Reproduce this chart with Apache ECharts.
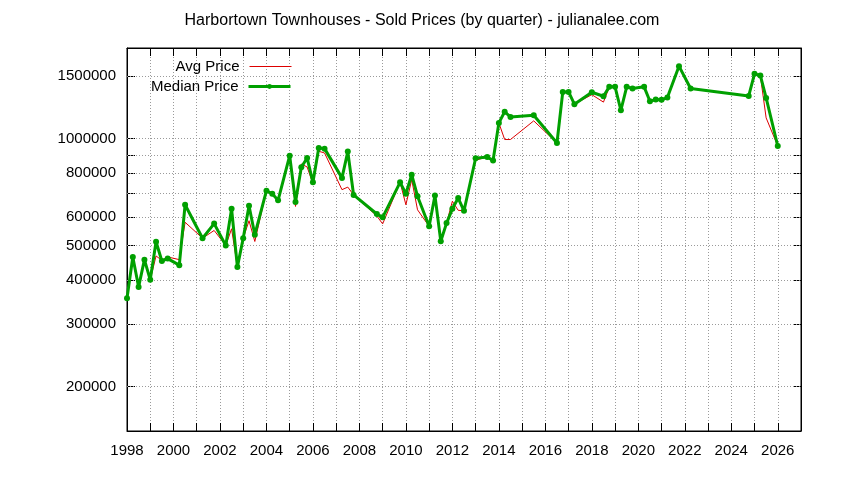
<!DOCTYPE html>
<html><head><meta charset="utf-8">
<script src="https://cdn.jsdelivr.net/npm/echarts@6/dist/echarts.min.js"></script>
<style>html,body{margin:0;padding:0;background:#fff}#c{width:844px;height:480px}</style>
</head><body><div id="c"></div>
<script>
const quarters = [1998.00,1998.25,1998.50,1998.75,1999.00,1999.25,1999.50,1999.75,2000.25,2000.50,
  2001.25,2001.75,2002.25,2002.50,2002.75,2003.00,2003.25,2003.50,2004.00,2004.25,
  2004.50,2005.00,2005.25,2005.50,2005.75,2006.00,2006.25,2006.50,2007.25,2007.50,
  2007.75,2008.75,2009.00,2009.75,2010.00,2010.25,2010.50,2011.00,2011.25,2011.50,
  2011.75,2012.00,2012.25,2012.50,2013.00,2013.50,2013.75,2014.00,2014.25,2014.50,
  2015.50,2016.50,2016.75,2017.00,2017.25,2018.00,2018.50,2018.75,2019.00,2019.25,
  2019.50,2019.75,2020.25,2020.50,2020.75,2021.00,2021.25,2021.75,2022.25,2024.75,
  2025.00,2025.25,2025.50,2026.00];
const medianPrice = [355000,464000,382000,456000,400000,512000,452000,459000,440000,651000,
  524000,576000,500000,634000,435000,524000,647000,536000,713000,699000,
  670000,895000,663000,830000,882000,753000,941000,937000,775000,919000,
  694000,613000,600000,753000,699000,791000,688000,566000,691000,514000,
  578000,634000,680000,626000,880000,888000,867000,1107000,1190000,1151000,
  1163000,972000,1354000,1354000,1250000,1351000,1316000,1399000,1399000,1202000,
  1399000,1384000,1399000,1274000,1288000,1286000,1305000,1600000,1384000,1319000,
  1522000,1506000,1302000,953000];
const avgPrice = [355000,464000,382000,456000,400000,467000,454000,464000,456000,581000,
  524000,551000,500000,557000,435000,524000,587000,513000,713000,699000,
  670000,895000,644000,848000,832000,746000,921000,911000,718000,730000,
  694000,605000,575000,753000,651000,766000,630000,566000,691000,514000,
  578000,666000,628000,626000,869000,888000,867000,1107000,994000,994000,
  1122000,972000,1354000,1354000,1250000,1330000,1267000,1395000,1395000,1202000,
  1399000,1384000,1399000,1274000,1288000,1286000,1305000,1600000,1384000,1319000,
  1522000,1506000,1144000,953000];
const yTickValues = [200000,300000,400000,500000,600000,700000,800000,900000,1000000,1500000];
const yLabelValues = [200000,300000,400000,500000,600000,800000,1000000,1500000];
const titleText = 'Harbortown Townhouses - Sold Prices (by quarter) - julianalee.com';

const FONT = 'Liberation Sans';
const GRID_COLOR = '#9a9a9a';
const chart = echarts.init(document.getElementById('c'), null, {renderer: 'canvas'});
const tickStyle = {show: true, inside: true, length: 8, lineStyle: {color: '#000', width: 1}};
const xBase = {type: 'value', min: 1998, max: 2027, interval: 1,
  axisLine: {show: true, onZero: false, lineStyle: {color: '#000', width: 1}}};
const yBase = {type: 'log', logBase: 10, min: 150000, max: 1800000,
  axisLine: {show: true, lineStyle: {color: '#000', width: 1}}, minorTick: {show: false}, splitLine: {show: false}};

chart.setOption({
  animation: false,
  backgroundColor: '#fff',
  textStyle: {fontFamily: FONT},
  title: {text: titleText, left: 'center', top: 8,
    textStyle: {fontFamily: FONT, fontSize: 16, fontWeight: 'normal', color: '#000'}},
  grid: {left: 127, right: 43, top: 48, bottom: 49, show: true, borderColor: '#000', borderWidth: 1, backgroundColor: 'transparent'},
  legend: [
    {data: ['Avg Price'], orient: 'vertical', right: 552, top: 59, align: 'right', itemWidth: 42, itemHeight: 6,
      padding: 0, itemStyle: {opacity: 0}, lineStyle: {width: 1, color: '#dd0000'},
      textStyle: {fontFamily: FONT, fontSize: 15, color: '#000', padding: [0, 5, 0, 0]}},
    {data: ['Median Price'], orient: 'vertical', right: 552, top: 79, align: 'right', itemWidth: 42, itemHeight: 6,
      padding: 0, lineStyle: {width: 3, color: '#00a000'},
      textStyle: {fontFamily: FONT, fontSize: 15, color: '#000', padding: [0, 5, 0, 0]}}
  ],
  xAxis: [
    Object.assign({}, xBase, {position: 'bottom', axisTick: tickStyle,
      splitLine: {show: true, lineStyle: {color: GRID_COLOR, width: 1, type: [1, 2]}},
      axisLabel: {margin: 12, fontFamily: FONT, fontSize: 15, color: '#000',
        formatter: v => (v % 2 === 0 ? String(v) : '')}}),
    Object.assign({}, xBase, {position: 'top', axisTick: tickStyle, splitLine: {show: false}, axisLabel: {show: false}})
  ],
  yAxis: [
    Object.assign({}, yBase, {position: 'left',
      axisTick: Object.assign({customValues: yTickValues}, tickStyle),
      axisLabel: {customValues: yLabelValues, margin: 11, fontFamily: FONT, fontSize: 15, color: '#000',
        formatter: v => String(Math.round(v))}}),
    Object.assign({}, yBase, {position: 'right',
      axisTick: Object.assign({customValues: yTickValues}, tickStyle),
      axisLabel: {show: false}})
  ],
  series: [
    {name: 'Avg Price', type: 'line', xAxisIndex: 0, yAxisIndex: 0, symbol: 'none', showSymbol: false,
      lineStyle: {color: '#dd0000', width: 1}, itemStyle: {color: '#dd0000'},
      data: quarters.map((q, i) => [q, avgPrice[i]]), z: 3,
      markLine: {silent: true, z: 1, symbol: 'none', label: {show: false}, animation: false,
        lineStyle: {color: GRID_COLOR, width: 1, type: [1, 2]},
        emphasis: {disabled: true},
        data: yTickValues.map(v => ({yAxis: v}))}},
    {name: 'Median Price', type: 'line', xAxisIndex: 0, yAxisIndex: 0, symbol: 'circle', symbolSize: 6, showSymbol: true,
      lineStyle: {color: '#00a000', width: 3}, itemStyle: {color: '#00a000'},
      data: quarters.map((q, i) => [q, medianPrice[i]]), z: 4}
  ]
});
</script></body></html>
